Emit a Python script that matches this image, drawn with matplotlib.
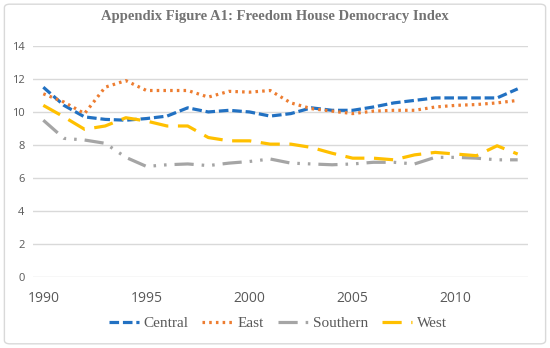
import matplotlib.pyplot as plt
from matplotlib.patches import FancyBboxPatch

years = list(range(1990, 2014))
central = [11.5, 10.4, 9.7, 9.55, 9.5, 9.6, 9.75, 10.25, 10.0, 10.1, 10.0, 9.75,
           9.9, 10.25, 10.1, 10.1, 10.3, 10.55, 10.7, 10.85, 10.85, 10.85, 10.85, 11.4]
east = [11.1, 10.6, 9.9, 11.5, 11.9, 11.3, 11.3, 11.3, 10.9, 11.25, 11.2, 11.3,
        10.55, 10.2, 10.05, 9.9, 10.05, 10.1, 10.1, 10.3, 10.4, 10.45, 10.55, 10.7]
southern = [9.5, 8.4, 8.3, 8.1, 7.25, 6.7, 6.8, 6.85, 6.75, 6.9, 7.0, 7.15,
            6.9, 6.85, 6.8, 6.85, 6.95, 6.95, 6.85, 7.25, 7.25, 7.2, 7.1, 7.1]
west = [10.4, 9.7, 8.95, 9.15, 9.65, 9.45, 9.15, 9.15, 8.45, 8.25, 8.25, 8.05,
        8.05, 7.85, 7.5, 7.2, 7.2, 7.1, 7.4, 7.55, 7.45, 7.35, 7.95, 7.45]

grey_txt = '#595959'
fig = plt.figure(figsize=(5.5, 3.48), dpi=100)
fig.patches.append(FancyBboxPatch((0.008, 0.012), 0.984, 0.976,
                                  boxstyle='round,pad=0,rounding_size=0.01',
                                  transform=fig.transFigure, fc='none',
                                  ec='#d9d9d9', lw=1, zorder=-1))
ax = fig.add_axes([0.06, 0.204, 0.90, 0.664])
ax.patch.set_alpha(0)

lw = 2.3
ax.plot(years, central, color='#2271c2', lw=lw, dashes=(3, 1.2), label='Central')
ax.plot(years, east, color='#ed7d31', lw=lw, dashes=(0.8, 1.3), label='East')
ax.plot(years, southern, color='#a5a5a5', lw=lw, dashes=(6, 2.5, 0.8, 2.5, 0.8, 2.5),
        label='Southern')
ax.plot(years, west, color='#ffc000', lw=lw, dashes=(6, 3), label='West')

ax.set_xlim(1989.5, 2013.5)
ax.set_ylim(0, 14)
ax.set_yticks(range(0, 15, 2))
ax.set_xticks(range(1990, 2011, 5))
ax.grid(axis='y', color='#d9d9d9', lw=1)
ax.set_axisbelow(True)
for s in ax.spines.values():
    s.set_visible(False)
ax.tick_params(length=0)
ax.tick_params(axis='y', labelsize=8, labelcolor=grey_txt, pad=6)
ax.tick_params(axis='x', labelsize=10, labelcolor=grey_txt, pad=10)
for lab in ax.get_xticklabels() + ax.get_yticklabels():
    lab.set_family('Open Sans')

fig.text(0.5, 0.953, 'Appendix Figure A1: Freedom House Democracy Index',
         ha='center', va='center', family='Liberation Serif', weight='bold',
         fontsize=10.5, color='#737373')
fig.legend(loc='center', bbox_to_anchor=(0.505, 0.07), ncol=4, frameon=False,
           prop={'family': 'Liberation Serif', 'size': 11}, handlelength=2.0,
           handletextpad=0.3, columnspacing=0.9, labelcolor=grey_txt)

fig.savefig('out.png', dpi=100)
